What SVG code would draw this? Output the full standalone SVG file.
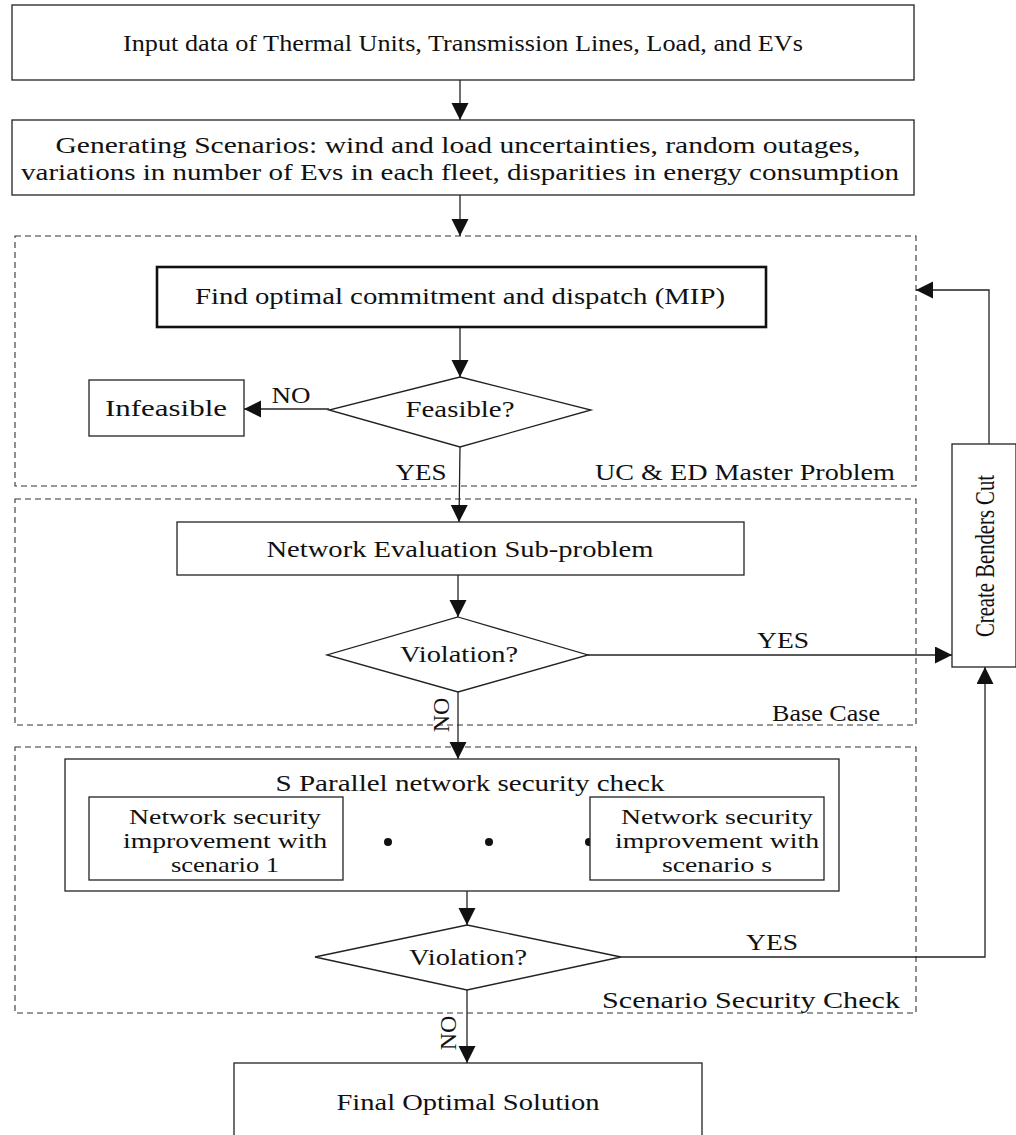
<svg xmlns="http://www.w3.org/2000/svg" width="1016" height="1135" viewBox="0 0 1016 1135">
<style>
  .box{fill:#fff;stroke:#222;stroke-width:1.3}
  .thick{fill:#fff;stroke:#111;stroke-width:2.6}
  .region{fill:none;stroke:#333;stroke-width:1.1;stroke-dasharray:6 4}
  .line{fill:none;stroke:#222;stroke-width:1.3}
  .t{font-family:"Liberation Serif","Times New Roman",serif;font-size:24px;fill:#111;text-anchor:middle}
  .s{font-size:22px}
  .r{text-anchor:end}
</style>
<defs>
  <marker id="ah" markerUnits="userSpaceOnUse" markerWidth="18" markerHeight="18" refX="17" refY="8.5" orient="auto">
    <path d="M0,0 L17,8.5 L0,17 Z" fill="#111"/>
  </marker>
</defs>
<rect width="1016" height="1135" fill="#fff"/>

<g id="regions">
  <rect id="region-master" class="region" x="15" y="236" width="901" height="250"/>
  <rect id="region-base" class="region" x="15" y="499" width="901" height="226"/>
  <rect id="region-scenario" class="region" x="15" y="747" width="901" height="266"/>
  <text class="t r" x="895" y="480" textLength="300" lengthAdjust="spacingAndGlyphs">UC &amp; ED Master Problem</text>
  <text class="t r" x="880" y="721" textLength="108" lengthAdjust="spacingAndGlyphs">Base Case</text>
  <text class="t r" x="900" y="1008" textLength="298" lengthAdjust="spacingAndGlyphs">Scenario Security Check</text>
</g>

<g id="connectors">
  <line class="line" x1="460" y1="80" x2="460" y2="120" marker-end="url(#ah)"/>
  <line class="line" x1="460" y1="195" x2="460" y2="236" marker-end="url(#ah)"/>
  <line class="line" x1="460" y1="327" x2="460" y2="377" marker-end="url(#ah)"/>
  <line class="line" x1="329" y1="409" x2="244" y2="409" marker-end="url(#ah)"/>
  <line class="line" x1="460" y1="447" x2="459" y2="522" marker-end="url(#ah)"/>
  <line class="line" x1="458" y1="575" x2="458" y2="617" marker-end="url(#ah)"/>
  <line class="line" x1="588" y1="655" x2="952" y2="655" marker-end="url(#ah)"/>
  <line class="line" x1="458" y1="692" x2="458" y2="759" marker-end="url(#ah)"/>
  <line class="line" x1="467" y1="891" x2="467" y2="925" marker-end="url(#ah)"/>
  <polyline class="line" points="621,957 985,957 985,667" marker-end="url(#ah)"/>
  <line class="line" x1="467" y1="990" x2="467" y2="1063" marker-end="url(#ah)"/>
  <polyline class="line" points="989,444 989,290 916,290" marker-end="url(#ah)"/>
  <text class="t" x="291" y="403" textLength="39" lengthAdjust="spacingAndGlyphs">NO</text>
  <text class="t" x="421" y="480" textLength="51" lengthAdjust="spacingAndGlyphs">YES</text>
  <text class="t" x="783" y="648" textLength="52" lengthAdjust="spacingAndGlyphs">YES</text>
  <text class="t" x="772" y="950" textLength="52" lengthAdjust="spacingAndGlyphs">YES</text>
  <text class="t" transform="translate(449,715) rotate(-90)">NO</text>
  <text class="t" transform="translate(456,1033) rotate(-90)">NO</text>
</g>

<g id="input">
  <rect class="box" x="12" y="5" width="902" height="75"/>
  <text class="t" x="463" y="51" textLength="680" lengthAdjust="spacingAndGlyphs">Input data of Thermal Units, Transmission Lines, Load, and EVs</text>
</g>
<g id="scenarios">
  <rect class="box" x="12" y="120" width="902" height="75"/>
  <text class="t" x="458" y="153" textLength="805" lengthAdjust="spacingAndGlyphs">Generating Scenarios: wind and load uncertainties, random outages,</text>
  <text class="t" x="460" y="180" textLength="878" lengthAdjust="spacingAndGlyphs">variations in number of Evs in each fleet, disparities in energy consumption</text>
</g>
<g id="mip">
  <rect class="thick" x="157" y="267" width="609" height="60"/>
  <text class="t" x="460" y="304" textLength="530" lengthAdjust="spacingAndGlyphs">Find optimal commitment and dispatch (MIP)</text>
</g>
<g id="feasible">
  <polygon class="box" points="460,377 591,410 460,447 329,410"/>
  <text class="t" x="460" y="417" textLength="109" lengthAdjust="spacingAndGlyphs">Feasible?</text>
</g>
<g id="infeasible">
  <rect class="box" x="89" y="380" width="155" height="56"/>
  <text class="t" x="166" y="416" textLength="122" lengthAdjust="spacingAndGlyphs">Infeasible</text>
</g>
<g id="network-eval">
  <rect class="box" x="177" y="522" width="567" height="53"/>
  <text class="t" x="460" y="557" textLength="387" lengthAdjust="spacingAndGlyphs">Network Evaluation Sub-problem</text>
</g>
<g id="violation1">
  <polygon class="box" points="458,617 588,655 458,692 327,655"/>
  <text class="t" x="459" y="662" textLength="118" lengthAdjust="spacingAndGlyphs">Violation?</text>
</g>
<g id="parallel">
  <rect class="box" x="65" y="759" width="774" height="132"/>
  <text class="t" x="470" y="791" textLength="389" lengthAdjust="spacingAndGlyphs">S Parallel network security check</text>
</g>
<g id="scenario1">
  <rect class="box" x="89" y="797" width="254" height="83"/>
  <text class="t s" x="225" y="824" textLength="192" lengthAdjust="spacingAndGlyphs">Network security</text>
  <text class="t s" x="225" y="848" textLength="204" lengthAdjust="spacingAndGlyphs">improvement with</text>
  <text class="t s" x="225" y="872" textLength="108" lengthAdjust="spacingAndGlyphs">scenario 1</text>
</g>
<g id="dots">
  <circle cx="388" cy="842" r="4" fill="#111"/>
  <circle cx="489" cy="842" r="4" fill="#111"/>
  <circle cx="589" cy="842" r="4" fill="#111"/>
</g>
<g id="scenarioS">
  <rect class="box" x="590" y="797" width="234" height="83"/>
  <text class="t s" x="717" y="824" textLength="192" lengthAdjust="spacingAndGlyphs">Network security</text>
  <text class="t s" x="717" y="848" textLength="204" lengthAdjust="spacingAndGlyphs">improvement with</text>
  <text class="t s" x="717" y="872" textLength="110" lengthAdjust="spacingAndGlyphs">scenario s</text>
</g>
<g id="violation2">
  <polygon class="box" points="467,925 621,957 467,990 315,957"/>
  <text class="t" x="468" y="965" textLength="118" lengthAdjust="spacingAndGlyphs">Violation?</text>
</g>
<g id="benders">
  <rect class="box" x="952" y="444" width="64" height="223"/>
  <text class="t" style="font-size:27px" transform="translate(994,556) rotate(-90)" textLength="162" lengthAdjust="spacingAndGlyphs">Create Benders Cut</text>
</g>
<g id="final">
  <rect class="box" x="234" y="1063" width="468" height="80"/>
  <text class="t" x="468" y="1110" textLength="263" lengthAdjust="spacingAndGlyphs">Final Optimal Solution</text>
</g>
</svg>
